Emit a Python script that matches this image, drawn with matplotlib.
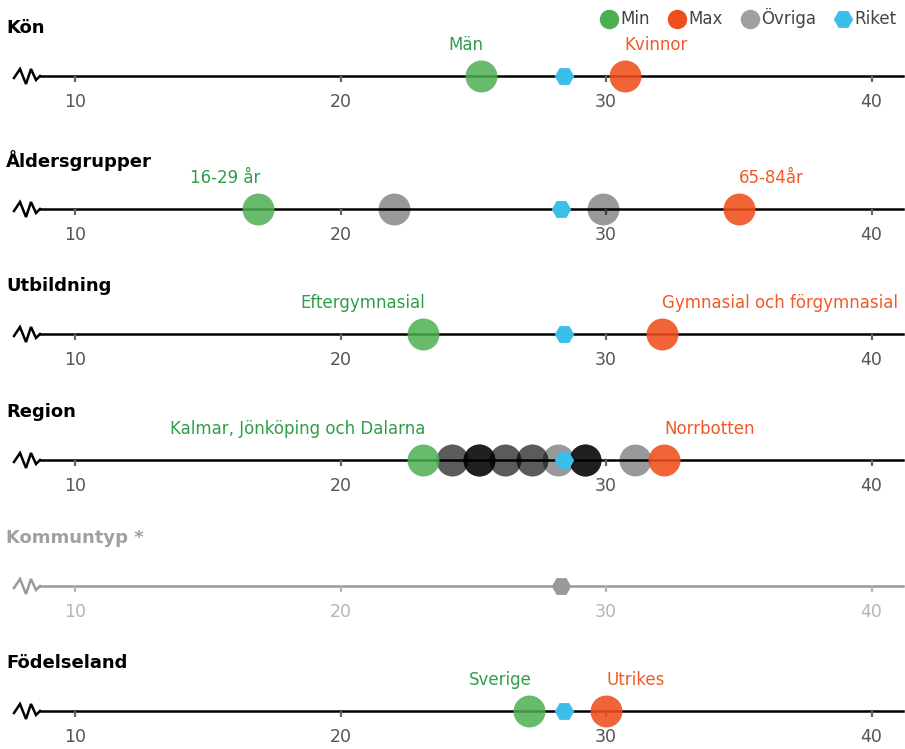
import matplotlib.pyplot as plt
from matplotlib.lines import Line2D

# data
rows = ['Kön', 'Åldersgrupper', 'Utbildning', 'Region', 'Kommuntyp *', 'Födelseland']
min_labels = ['Män', '16-29 år', 'Eftergymnasial', 'Kalmar, Jönköping och Dalarna', None, 'Sverige']
min_values = [25.3, 16.9, 23.1, 23.1, None, 27.1]
max_labels = ['Kvinnor', '65-84år', 'Gymnasial och förgymnasial', 'Norrbotten', None, 'Utrikes']
max_values = [30.7, 35.0, 32.1, 32.2, None, 30.0]
riket_values = [28.4, 28.3, 28.4, 28.4, 28.3, 28.4]
ovriga_values = [
    [],
    [22.0, 29.9],
    [],
    [24.2, 24.2, 25.2, 25.2, 25.2, 25.2, 26.2, 26.2, 27.2, 27.2, 28.2,
     29.2, 29.2, 29.2, 29.2, 31.1],
    [],
    [],
]
ticks = [10, 20, 30, 40]
line_y = [76, 209, 334, 460, 586, 711]

GREEN = '#4caf50'
GREEN_TXT = '#2e9e48'
ORANGE = '#f04e1c'
ORANGE_TXT = '#f05a28'
BLUE = '#3bbfea'

W, H = 905, 749
plt.rcParams['font.family'] = ['DejaVu Sans']
fig = plt.figure(figsize=(W / 100, H / 100), dpi=100)


def px2v(px):
    return 10 + (px - 75) / 26.55


for i, name in enumerate(rows):
    grey_row = name.startswith('Kommuntyp')
    line_col = '#9a9a9a' if grey_row else 'black'
    tick_col = '#b5b5b5' if grey_row else '#555555'
    title_col = '#a0a0a0' if grey_row else 'black'

    band = 110
    ax = fig.add_axes([0, 1 - (line_y[i] + band / 2) / H, 1, band / H])
    ax.set_xlim(px2v(0), px2v(W))
    ax.set_ylim(-band / 2, band / 2)
    ax.patch.set_alpha(0)
    for s in ['top', 'right', 'left']:
        ax.spines[s].set_visible(False)
    sp = ax.spines['bottom']
    sp.set_position(('data', 0))
    sp.set_bounds(px2v(40), px2v(903))
    sp.set_color(line_col)
    sp.set_linewidth(1.8)
    sp.set_zorder(1)
    ax.set_yticks([])
    ax.set_xticks(ticks)
    ax.tick_params(axis='x', direction='out', length=4, width=1.6,
                   color='#666666' if not grey_row else '#b5b5b5',
                   labelcolor=tick_col, labelsize=12.5, pad=8)

    # zigzag break
    zx = [14, 20, 26, 31, 36, 40]
    zy = [-2, 7, -8, 7, -4, 0]
    ax.plot([px2v(x) for x in zx], zy, color=line_col, lw=1.8,
            solid_joinstyle='miter', clip_on=False)

    ax.text(px2v(6), 48, name, fontsize=13, fontweight='bold',
            color=title_col, ha='left', va='center')

    for v in ovriga_values[i]:
        ax.plot(v, 0, 'o', ms=23, color='black', alpha=0.4, mec='none', zorder=3)
    if min_values[i] is not None:
        ax.plot(min_values[i], 0, 'o', ms=23, color=GREEN, alpha=0.85,
                mec='none', zorder=4)
        ax.text(min_values[i] + 0.1, 31, min_labels[i], fontsize=12,
                color=GREEN_TXT, ha='right', va='center')
    if max_values[i] is not None:
        ax.plot(max_values[i], 0, 'o', ms=23, color=ORANGE, alpha=0.88,
                mec='none', zorder=4)
        ax.text(max_values[i], 31, max_labels[i], fontsize=12,
                color=ORANGE_TXT, ha='left', va='center')
    ax.plot(riket_values[i], 0, 'H', ms=14,
            color='#999999' if grey_row else BLUE, mec='none', zorder=5)

handles = [
    Line2D([], [], ls='none', marker='o', ms=14, color=GREEN, mec='none'),
    Line2D([], [], ls='none', marker='o', ms=14, color=ORANGE, mec='none'),
    Line2D([], [], ls='none', marker='o', ms=14, color='#a0a0a0', mec='none'),
    Line2D([], [], ls='none', marker='H', ms=14, color=BLUE, mec='none'),
]
fig.legend(handles, ['Min', 'Max', 'Övriga', 'Riket'], loc='upper right',
           bbox_to_anchor=(1.0, 1.0), ncol=4, frameon=False, fontsize=12,
           handletextpad=0.1, columnspacing=1.0, handlelength=1.2,
           labelcolor='#444444', borderaxespad=0.1)

fig.savefig('out.png', dpi=100)
